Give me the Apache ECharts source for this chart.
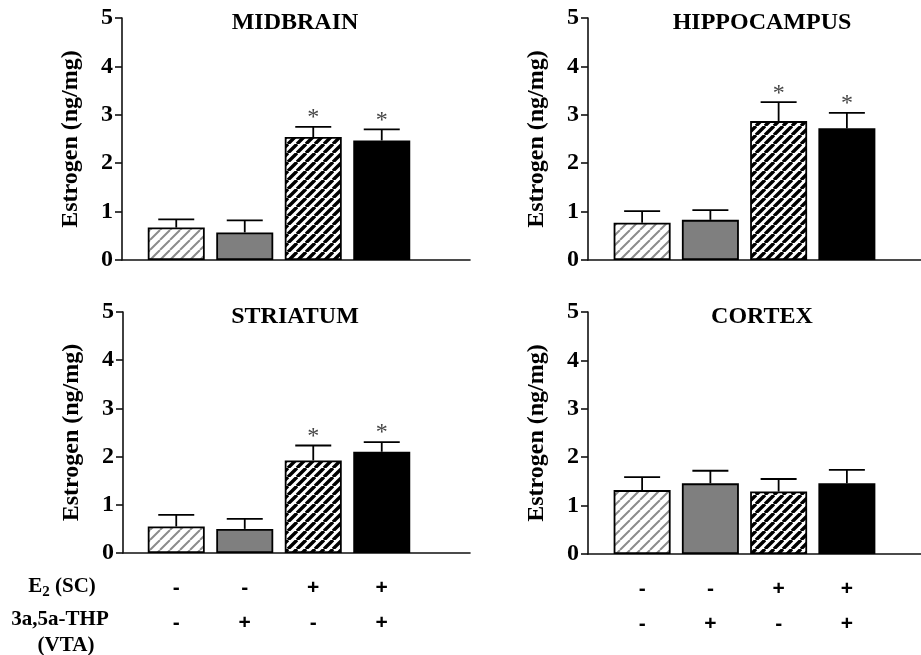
<!DOCTYPE html>
<html>
<head>
<meta charset="utf-8">
<script src="https://cdn.jsdelivr.net/npm/echarts@6/dist/echarts.min.js"></script>
<style>
html,body{margin:0;padding:0;background:#fff;}
#c{width:921px;height:655px;}
</style>
</head>
<body>
<div id="c"></div>
<script>
// ---- data ----
const panelTitles = ['MIDBRAIN', 'HIPPOCAMPUS', 'STRIATUM', 'CORTEX'];
const yTicks = [0, 1, 2, 3, 4, 5];
const e2Signs = ['-', '-', '+', '+'];
const thpSigns = ['-', '+', '-', '+'];
const groups = ['g1', 'g2', 'g3', 'g4'];
const midbrainMean = [0.67, 0.57, 2.54, 2.47];
const midbrainSem = [0.17, 0.25, 0.21, 0.23];
const midbrainSig = [0, 0, 1, 1];
const hippocampusMean = [0.77, 0.83, 2.87, 2.72];
const hippocampusSem = [0.24, 0.20, 0.39, 0.32];
const hippocampusSig = [0, 0, 1, 1];
const striatumMean = [0.55, 0.50, 1.92, 2.10];
const striatumSem = [0.24, 0.21, 0.31, 0.20];
const striatumSig = [0, 0, 1, 1];
const cortexMean = [1.32, 1.46, 1.29, 1.46];
const cortexSem = [0.27, 0.26, 0.26, 0.28];
const cortexSig = [0, 0, 0, 0];
const yAxisName = 'Estrogen (ng/mg)';

// ---- styling ----
function hatch(color, lw, size) {
  const c = document.createElement('canvas');
  c.width = size; c.height = size;
  const ctx = c.getContext('2d');
  ctx.fillStyle = '#fff';
  ctx.fillRect(0, 0, size, size);
  ctx.strokeStyle = color;
  ctx.lineWidth = lw;
  ctx.beginPath();
  for (let k = -1; k <= 1; k++) {
    ctx.moveTo(k * size, size);
    ctx.lineTo(k * size + size, 0);
  }
  ctx.stroke();
  return c;
}
const fills = [
  { image: hatch('#8c8c8c', 2, 10), repeat: 'repeat' },
  '#7f7f7f',
  { image: hatch('#000', 3.4, 9), repeat: 'repeat' },
  '#000'
];
const serif = '"Liberation Serif", "Times New Roman", serif';
const axisColor = '#111';

const panelData = [
  { mean: midbrainMean, sem: midbrainSem, sig: midbrainSig },
  { mean: hippocampusMean, sem: hippocampusSem, sig: hippocampusSig },
  { mean: striatumMean, sem: striatumSem, sig: striatumSig },
  { mean: cortexMean, sem: cortexSem, sig: cortexSig }
];
const layout = [
  { axL: 122, axW: 348, bL: 142, bW: 274, top: 18, h: 242, tx: 295 },
  { axL: 588, axW: 333, bL: 608, bW: 273, top: 18, h: 242, tx: 762 },
  { axL: 123, axW: 347, bL: 142, bW: 274, top: 312, h: 241, tx: 295 },
  { axL: 588, axW: 333, bL: 608, bW: 273, top: 312, h: 242, tx: 762 }
];

const grid = [], xAxis = [], yAxis = [], series = [], graphic = [];
const bottomCats = groups.map((g, i) => e2Signs[i] + '\n' + thpSigns[i]);

layout.forEach((L, p) => {
  const ga = grid.length;
  grid.push({ left: L.axL, top: L.top, width: L.axW, height: L.h, outerBoundsMode: 'none', containLabel: false });
  grid.push({ left: L.bL, top: L.top, width: L.bW, height: L.h, outerBoundsMode: 'none', containLabel: false });
  xAxis.push({
    gridIndex: ga, type: 'value', min: 0, max: 1,
    axisLine: { show: true, onZero: false, lineStyle: { color: axisColor, width: 1.6 } },
    axisTick: { show: false }, axisLabel: { show: false }, splitLine: { show: false }
  });
  yAxis.push({
    gridIndex: ga, type: 'value', min: yTicks[0], max: yTicks[yTicks.length - 1], interval: 1,
    name: yAxisName, nameLocation: 'middle', nameRotate: 90, nameGap: 39,
    nameTextStyle: { fontFamily: serif, fontWeight: 'bold', fontSize: 24, color: '#000' },
    axisLine: { show: true, lineStyle: { color: axisColor, width: 1.6 } },
    axisTick: { show: true, length: 7, lineStyle: { color: axisColor, width: 1.6 } },
    axisLabel: { show: true, margin: 9, fontFamily: serif, fontWeight: 'bold', fontSize: 24, color: '#000' },
    splitLine: { show: false }
  });
  const bottom = p >= 2;
  xAxis.push({
    gridIndex: ga + 1, type: 'category', data: bottom ? bottomCats : groups,
    axisLine: { show: false }, axisTick: { show: false },
    axisLabel: bottom ? {
      show: true, margin: 18, lineHeight: 35, interval: 0,
      fontFamily: '"Liberation Sans", Arial, sans-serif', fontWeight: 'bold', fontSize: 21, color: '#000'
    } : { show: false },
    splitLine: { show: false }
  });
  yAxis.push({
    gridIndex: ga + 1, type: 'value', min: 0, max: 5, interval: 1, show: false
  });
  const D = panelData[p];
  series.push({
    type: 'bar', xAxisIndex: ga + 1, yAxisIndex: ga + 1, barWidth: 57,
    data: D.mean.map((v, i) => ({ value: v, itemStyle: { color: fills[i], borderColor: '#000', borderWidth: 1.8 } })),
    silent: true, animation: false
  });
  series.push({
    type: 'custom', xAxisIndex: ga + 1, yAxisIndex: ga + 1, z: 5, animation: false, silent: true,
    data: D.mean.map((v, i) => [i, v, D.sem[i], D.sig[i]]),
    renderItem: function (params, api) {
      const i = api.value(0), m = api.value(1), s = api.value(2), sig = api.value(3);
      const b = api.coord([i, m]);
      const t = api.coord([i, m + s]);
      const st = { stroke: '#000', lineWidth: 1.8 };
      const children = [
        { type: 'line', shape: { x1: t[0], y1: b[1], x2: t[0], y2: t[1] }, style: st },
        { type: 'line', shape: { x1: t[0] - 18, y1: t[1], x2: t[0] + 18, y2: t[1] }, style: st }
      ];
      if (sig) {
        children.push({
          type: 'text',
          style: { text: '*', x: t[0], y: t[1] + 3, align: 'center', verticalAlign: 'bottom',
            font: '24px ' + serif, fill: '#444' }
        });
      }
      return { type: 'group', children: children };
    }
  });
  graphic.push({
    type: 'text', x: L.tx, y: L.top + 5,
    style: { text: panelTitles[p], font: 'bold 24px ' + serif, fill: '#000', align: 'center', verticalAlign: 'middle' }
  });
});

graphic.push({
  type: 'text', x: 62, y: 587,
  style: {
    text: '{a|E}{s|2}{a| (SC)}', align: 'center', verticalAlign: 'middle',
    rich: {
      a: { fontFamily: serif, fontWeight: 'bold', fontSize: 21, fill: '#000' },
      s: { fontFamily: serif, fontWeight: 'bold', fontSize: 15, fill: '#000', padding: [10, 0, 0, 0] }
    }
  }
});
graphic.push({
  type: 'text', x: 60, y: 620,
  style: { text: '3a,5a-THP', font: 'bold 21px ' + serif, fill: '#000', align: 'center', verticalAlign: 'middle' }
});
graphic.push({
  type: 'text', x: 66, y: 646,
  style: { text: '(VTA)', font: 'bold 21px ' + serif, fill: '#000', align: 'center', verticalAlign: 'middle' }
});

const chart = echarts.init(document.getElementById('c'), null, { renderer: 'canvas' });
chart.setOption({
  backgroundColor: '#fff',
  animation: false,
  grid: grid, xAxis: xAxis, yAxis: yAxis, series: series, graphic: graphic
});
</script>
</body>
</html>
